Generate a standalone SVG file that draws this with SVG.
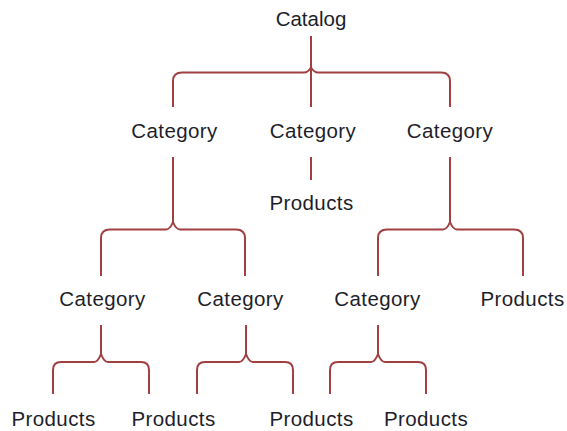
<svg xmlns="http://www.w3.org/2000/svg" width="567" height="431" viewBox="0 0 567 431">
<style>
.t{font-family:"Liberation Sans",Arial,sans-serif;font-size:20.5px;fill:#1e1e2a;text-anchor:middle;letter-spacing:0.4px}
.c{fill:none;stroke:#a04040;stroke-width:2;stroke-linejoin:round}
</style>
<rect width="567" height="431" fill="#ffffff"/>
<g id="connectors">
<path class="c" d="M311,36 V107"/>
<path class="c" d="M173,107 V81 Q173,72.5 182,72.5 H304 Q308,72.5 311,67.5 Q314,72.5 318,72.5 H441 Q450,72.5 450,81 V107"/>
<path class="c" d="M311,157 V180"/>
<path class="c" d="M173,157 V222"/>
<path class="c" d="M101,276 V238 Q101,229.5 110,229.5 H166 Q170,229.5 173,222 Q176,229.5 180,229.5 H236 Q245,229.5 245,238 V276"/>
<path class="c" d="M450,157 V222"/>
<path class="c" d="M378,276 V238 Q378,229.5 387,229.5 H443 Q447,229.5 450,222 Q453,229.5 457,229.5 H514 Q523,229.5 523,238 V276"/>
<path class="c" d="M101,325 V354"/>
<path class="c" d="M53,394 V370 Q53,362 61,362 H94 Q98,362 101,354 Q104,362 108,362 H141 Q149,362 149,370 V394"/>
<path class="c" d="M246,325 V354"/>
<path class="c" d="M197,394 V370 Q197,362 205,362 H239 Q243,362 246,354 Q249,362 253,362 H285 Q293,362 293,370 V394"/>
<path class="c" d="M378,325 V354"/>
<path class="c" d="M330,394 V370 Q330,362 338,362 H371 Q375,362 378,354 Q381,362 385,362 H418 Q426,362 426,370 V394"/>
</g>
<g id="catalog"><text class="t" x="311" y="26" style="letter-spacing:0">Catalog</text></g>
<g id="cat1"><text class="t" x="174.5" y="138">Category</text></g>
<g id="cat2"><text class="t" x="313" y="138">Category</text></g>
<g id="cat3"><text class="t" x="450" y="138">Category</text></g>
<g id="prod-mid"><text class="t" x="311.5" y="210">Products</text></g>
<g id="cat1a"><text class="t" x="102.5" y="306">Category</text></g>
<g id="cat1b"><text class="t" x="240.5" y="306">Category</text></g>
<g id="cat3a"><text class="t" x="377.5" y="306">Category</text></g>
<g id="prod3b"><text class="t" x="522.5" y="306">Products</text></g>
<g id="prod1a1"><text class="t" x="53.5" y="426">Products</text></g>
<g id="prod1a2"><text class="t" x="173.5" y="426">Products</text></g>
<g id="prod1b1"><text class="t" x="311.5" y="426">Products</text></g>
<g id="prod3a1"><text class="t" x="426" y="426">Products</text></g>
</svg>
